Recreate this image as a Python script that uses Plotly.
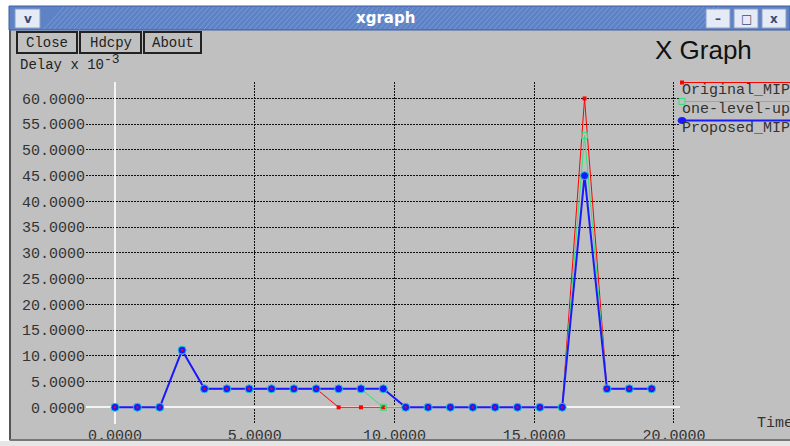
import plotly.graph_objects as go

# ---------------- data ----------------
time = [0.0, 0.8, 1.6, 2.4, 3.2, 4.0, 4.8, 5.6, 6.4, 7.2, 8.0, 8.8, 9.6,
        10.4, 11.2, 12.0, 12.8, 13.6, 14.4, 15.2, 16.0, 16.8, 17.6, 18.4, 19.2]
original_mip = [0, 0, 0, 11.1, 3.6, 3.6, 3.6, 3.6, 3.6, 3.6, 0, 0, 0,
                0, 0, 0, 0, 0, 0, 0, 0, 60.0, 3.6, 3.6, 3.6]
one_level_up = [0, 0, 0, 11.1, 3.6, 3.6, 3.6, 3.6, 3.6, 3.6, 3.6, 3.6, 0,
                0, 0, 0, 0, 0, 0, 0, 0, 52.8, 3.6, 3.6, 3.6]
proposed_mip = [0, 0, 0, 11.1, 3.6, 3.6, 3.6, 3.6, 3.6, 3.6, 3.6, 3.6, 3.6,
                0, 0, 0, 0, 0, 0, 0, 0, 45.0, 3.6, 3.6, 3.6]
series_names = ["Original_MIP", "one-level-up", "Proposed_MIP"]
x_ticks = [0, 5, 10, 15, 20]
y_ticks = [0, 5, 10, 15, 20, 25, 30, 35, 40, 45, 50, 55, 60]

# ---------------- style ----------------
W, H = 790, 446
L, R, T, B = 86, 110, 82, 22
PW, PH = W - L - R, H - T - B
GREY = "#c0c0c0"
RED, GREEN, BLUE = "#ff0000", "#33e07a", "#1a1aff"
MONO = "Liberation Mono"


def px(x):
    return (x - L) / PW


def py(y):
    return (H - B - y) / PH


fig = go.Figure()
fig.add_trace(go.Scatter(x=time, y=original_mip, mode="lines+markers", name=series_names[0],
                         line=dict(color=RED, width=1),
                         marker=dict(symbol="square", size=4, color=RED)))
fig.add_trace(go.Scatter(x=time, y=one_level_up, mode="lines+markers", name=series_names[1],
                         line=dict(color=GREEN, width=1),
                         marker=dict(symbol="square-open", size=6, color=GREEN)))
fig.add_trace(go.Scatter(x=time, y=proposed_mip, mode="lines+markers", name=series_names[2],
                         line=dict(color=BLUE, width=2),
                         marker=dict(symbol="circle", size=8, color=BLUE,
                                     line=dict(color="#20c8d0", width=1))))
fig.add_trace(go.Scatter(x=time, y=original_mip, mode="markers", showlegend=False,
                         marker=dict(symbol="square", size=2, color=RED)))

axis_common = dict(showgrid=True, gridcolor="#111111", gridwidth=1, griddash="2px,1px",
                   zeroline=True, zerolinecolor="#f4f4f4", zerolinewidth=2,
                   showline=False, ticks="", tickformat=".4f", automargin=False,
                   tickfont=dict(family=MONO, size=15, color="#333333"))
fig.update_xaxes(range=[-1.0376, 20.215], tickvals=x_ticks, **axis_common)
fig.update_yaxes(range=[-3.24, 63.2], tickvals=y_ticks, **axis_common)

shapes = []
ann = []

# window chrome
shapes.append(dict(type="rect", xref="paper", yref="paper", x0=px(0), x1=px(W), y0=py(0), y1=py(6),
                   fillcolor="white", line_width=0, layer="above"))
shapes.append(dict(type="rect", xref="paper", yref="paper", x0=px(0), x1=px(9), y0=py(0), y1=py(H),
                   fillcolor="white", line_width=0, layer="above"))
shapes.append(dict(type="rect", xref="paper", yref="paper", x0=px(0), x1=px(W), y0=py(441), y1=py(H),
                   fillcolor="#e6e6e6", line_width=0, layer="above"))
shapes.append(dict(type="line", xref="paper", yref="paper", x0=px(10), x1=px(10), y0=py(30), y1=py(440),
                   line=dict(color="#555555", width=2), layer="above"))
shapes.append(dict(type="line", xref="paper", yref="paper", x0=px(10), x1=px(W), y0=py(440), y1=py(440),
                   line=dict(color="#777777", width=2), layer="above"))
# title bar
shapes.append(dict(type="rect", xref="paper", yref="paper", x0=px(9), x1=px(W), y0=py(6), y1=py(30),
                   fillcolor="#5d82c6", line=dict(color="#3f5f9f", width=1), layer="above"))
for k in range(0, 660, 5):
    shapes.append(dict(type="line", xref="paper", yref="paper", x0=px(44 + k), x1=px(44 + k + 20),
                       y0=py(29), y1=py(7), line=dict(color="#7a9ad4", width=1), layer="above"))
ann.append(dict(text="<b>xgraph</b>", x=px(385), y=py(18), xref="paper", yref="paper", showarrow=False,
                font=dict(family="DejaVu Sans", size=15, color="white"), xanchor="center", yanchor="middle"))
# title bar buttons
for (x0, x1, sym) in [(15, 40, "v"), (706, 730, "–"), (734, 758, "□"), (762, 786, "x")]:
    shapes.append(dict(type="rect", xref="paper", yref="paper", x0=px(x0), x1=px(x1), y0=py(9), y1=py(28),
                       fillcolor="#e4ebf7", line=dict(color="#8a9cc0", width=1), layer="above"))
    ann.append(dict(text="<b>" + sym + "</b>", x=px((x0 + x1) / 2), y=py(18.5), xref="paper", yref="paper",
                    showarrow=False, font=dict(family="DejaVu Sans", size=12, color="#3a4a70"),
                    xanchor="center", yanchor="middle"))

# xgraph buttons
for (x0, x1, label) in [(17, 77, "Close"), (80, 141, "Hdcpy"), (144, 201, "About")]:
    shapes.append(dict(type="rect", xref="paper", yref="paper", x0=px(x0), x1=px(x1), y0=py(32), y1=py(53),
                       fillcolor=GREY, line=dict(color="#222222", width=2), layer="above"))
    ann.append(dict(text=label, x=px((x0 + x1) / 2), y=py(42.5), xref="paper", yref="paper", showarrow=False,
                    font=dict(family=MONO, size=14, color="#222222"), xanchor="center", yanchor="middle"))

ann.append(dict(text="X Graph", x=px(653), y=py(50), xref="paper", yref="paper", showarrow=False,
                font=dict(family="Liberation Sans", size=26, color="#111111"), xanchor="left", yanchor="middle"))
ann.append(dict(text="Delay x 10<sup><span style='font-size:13px'>-3</span></sup>", x=px(18), y=py(63),
                xref="paper", yref="paper", showarrow=False,
                font=dict(family=MONO, size=14, color="#222222"), xanchor="left", yanchor="middle"))
ann.append(dict(text="Time", x=px(755), y=py(423), xref="paper", yref="paper", showarrow=False,
                font=dict(family=MONO, size=15, color="#333333"), xanchor="left", yanchor="middle"))

# legend (xgraph style: line above label)
leg_y = [82.5, 101.5, 120.5]
leg_col = [RED, GREEN, BLUE]
for i, name in enumerate(series_names):
    yl = leg_y[i]
    shapes.append(dict(type="line", xref="paper", yref="paper", x0=px(680), x1=px(W), y0=py(yl), y1=py(yl),
                       line=dict(color=leg_col[i], width=2 if i == 2 else 1), layer="above"))
    if i == 0:
        shapes.append(dict(type="rect", xref="paper", yref="paper", x0=px(680), x1=px(684), y0=py(yl - 2),
                           y1=py(yl + 2), fillcolor=RED, line_width=0, layer="above"))
    elif i == 1:
        shapes.append(dict(type="rect", xref="paper", yref="paper", x0=px(679), x1=px(685), y0=py(yl - 3),
                           y1=py(yl + 3), fillcolor=GREY, line=dict(color=GREEN, width=1), layer="above"))
    else:
        shapes.append(dict(type="circle", xref="paper", yref="paper", x0=px(678), x1=px(686), y0=py(yl - 3),
                           y1=py(yl + 3), fillcolor=BLUE, line=dict(color=BLUE, width=1), layer="above"))
    ann.append(dict(text=name, x=px(680), y=py(yl + 7.5), xref="paper", yref="paper", showarrow=False,
                    font=dict(family=MONO, size=15, color="#333333"), xanchor="left", yanchor="middle"))

fig.update_layout(width=W, height=H, margin=dict(l=L, r=R, t=T, b=B),
                  paper_bgcolor=GREY, plot_bgcolor=GREY, showlegend=False,
                  shapes=shapes, annotations=ann)
fig.write_html("out.html", config={"displayModeBar": False},
               post_script="document.body.style.margin='0';document.body.style.overflow='hidden';")
